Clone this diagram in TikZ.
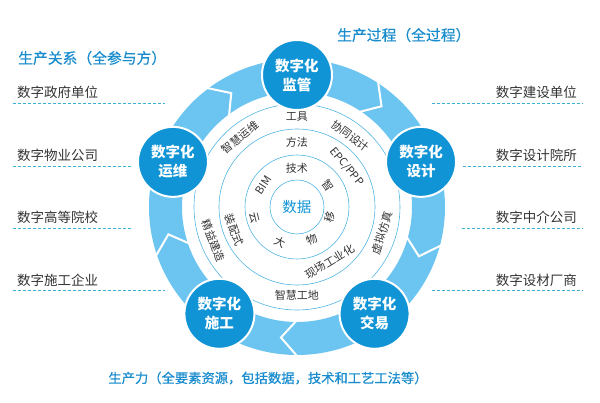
\documentclass[tikz,border=0pt]{standalone}
\usepackage{fontspec}
\setmainfont{Noto Sans CJK SC}
\newfontfamily\headfont{Noto Sans CJK SC}[FakeBold=0.6]
\definecolor{hubblue}{RGB}{16,148,213}
\definecolor{bandblue}{RGB}{108,196,240}
\definecolor{ringline}{RGB}{80,180,225}
\definecolor{headblue}{RGB}{25,140,205}
\definecolor{dashblue}{RGB}{60,175,215}
\definecolor{textgray}{RGB}{51,51,51}

\begin{document}
\begin{tikzpicture}[x=1pt, y=1pt, hub/.style={circle, fill=hubblue,
            draw=white, line width=2pt, minimum size=70pt, inner sep=0pt,
            text=white, align=center,
            font=\fontsize{14.5}{19}\selectfont\bfseries},
        ring/.style={draw=ringline, line width=0.6pt},
        word/.style={inner sep=0pt, text=textgray,
            font=\fontsize{11}{13}\selectfont},
        party/.style={inner sep=0pt, text=textgray,
            font=\fontsize{13.5}{16}\selectfont},
        heading/.style={inner sep=0pt, text=headblue,
            font=\headfont\fontsize{14.8}{17}\selectfont},
        chev/.style={draw=white, line width=2pt, line join=miter},
        dashline/.style={draw=dashblue, line width=0.9pt,
            dash pattern=on 3pt off 2pt}, ]

        \useasboundingbox (-297,-195) rectangle (303,207);

        % outer band with arrow notches
        \fill[bandblue, even odd rule] (0,0) circle (148pt) (0,0) circle
        (115pt);
        \foreach \a in {128,58,-14,-89,200}
        \draw[chev] (\a:111pt) -- ({\a-8}:131.5pt) -- (\a:152pt);

        % inner rings
        \draw[ring] (0,0) circle (103pt);
        \draw[ring] (0,0) circle (78pt);
        \draw[ring] (0,0) circle (52pt);
        \node[circle, ring, minimum size=54pt, inner sep=0pt,
        text=hubblue, font=\fontsize{14.5}{17}\selectfont] (data) at
        (0,0) {数据};

        \foreach \a/\r/\rot/\t [count=\i] in {90/90/0/工具,
                53/89/-37/协同设计, -17/89/73/虚拟仿真, -90/88/0/智慧工地,
                -158/90/-68/精益建造, 129/90/39/智慧运维, 90/65/0/方法,
                39/64/-51/{EPC/PPP}, -59/64/31/现场工业化,
                -160/67/-70/装配式, 90/39/0/技术, 35/38/-55/智,
                -17/35/73/移, -66/36/24/物, -116/39/-26/大,
                -166/44/-76/云, 147/40/57/BIM}
        \node[word, rotate=\rot] (w\i) at (\a:\r pt) {\t};

        % five stages
        \node[hub] (jianguan) at (90:132pt) {数字化\\监管};
        \node[hub] (sheji) at (20:132pt) {数字化\\设计};
        \node[hub] (jiaoyi) at (-54:132pt) {数字化\\交易};
        \node[hub] (shigong) at (-126:132pt) {数字化\\施工};
        \node[hub] (yunwei) at (160:132pt) {数字化\\运维};

        % headings
        \node[heading, anchor=west] (guanxi) at (-279,149)
        {生产关系（全参与方）};
        \node[heading, anchor=west] (guocheng) at (40,172)
        {生产过程（全过程）};
        \node[heading, font=\headfont\fontsize{13.3}{16}\selectfont]
        (shengchanli) at (-29,-171)
        {生产力（全要素资源，包括数据，技术和工艺工法等）};

        % parties, left
        \node[party, anchor=west] (zhengfu) at (-280,115) {数字政府单位};
        \node[party, anchor=west] (wuye) at (-280,52) {数字物业公司};
        \node[party, anchor=west] (gaoxiao) at (-280,-10) {数字高等院校};
        \node[party, anchor=west] (qiye) at (-280,-73) {数字施工企业};
        \draw[dashline] (-284,104) -- (-132,104);
        \draw[dashline] (-284,41) -- (-164,41);
        \draw[dashline] (-284,-21) -- (-164,-21);
        \draw[dashline] (-284,-83) -- (-132,-83);

        % parties, right
        \node[party, anchor=east] (jianshe) at (280,115) {数字建设单位};
        \node[party, anchor=east] (yuansuo) at (280,52) {数字设计院所};
        \node[party, anchor=east] (zhongjie) at (280,-10) {数字中介公司};
        \node[party, anchor=east] (shecai) at (280,-73) {数字设材厂商};
        \draw[dashline] (135,104) -- (286,104);
        \draw[dashline] (166,41) -- (286,41);
        \draw[dashline] (165,-21) -- (286,-21);
        \draw[dashline] (135,-83) -- (286,-83);
    \end{tikzpicture}
\end{document}
